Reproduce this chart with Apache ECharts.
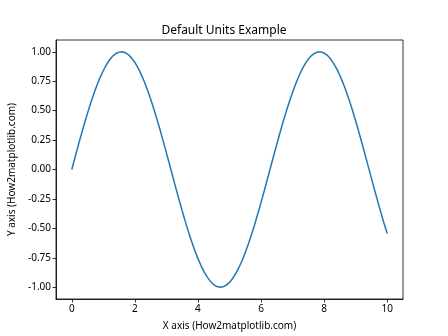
<!DOCTYPE html>
<html><head><meta charset="utf-8">
<script src="https://cdn.jsdelivr.net/npm/echarts@6/dist/echarts.min.js"></script>
<style>html,body{margin:0;padding:0;background:#fff}#c{width:448px;height:336px}</style>
</head><body><div id="c"></div>
<script>
const xValues = [0,0.1,0.2,0.3,0.4,0.5,0.6,0.7,0.8,0.9,1,1.1,1.2,1.3,1.4,1.5,1.6,1.7,1.8,1.9,2,2.1,2.2,2.3,2.4,2.5,2.6,2.7,2.8,2.9,3,3.1,3.2,3.3,3.4,3.5,3.6,3.7,3.8,3.9,4,4.1,4.2,4.3,4.4,4.5,4.6,4.7,4.8,4.9,5,5.1,5.2,5.3,5.4,5.5,5.6,5.7,5.8,5.9,6,6.1,6.2,6.3,6.4,6.5,6.6,6.7,6.8,6.9,7,7.1,7.2,7.3,7.4,7.5,7.6,7.7,7.8,7.9,8,8.1,8.2,8.3,8.4,8.5,8.6,8.7,8.8,8.9,9,9.1,9.2,9.3,9.4,9.5,9.6,9.7,9.8,9.9,10];
const yValues = [0.000,0.100,0.199,0.296,0.389,0.479,0.565,0.644,0.717,0.783,0.841,0.891,0.932,0.964,0.985,0.997,1.000,0.992,0.974,0.946,0.909,0.863,0.808,0.746,0.675,0.598,0.516,0.427,0.335,0.239,0.141,0.042,-0.058,-0.158,-0.256,-0.351,-0.443,-0.530,-0.612,-0.688,-0.757,-0.818,-0.872,-0.916,-0.952,-0.978,-0.994,-1.000,-0.996,-0.982,-0.959,-0.926,-0.883,-0.832,-0.773,-0.706,-0.631,-0.551,-0.465,-0.374,-0.279,-0.182,-0.083,0.017,0.117,0.215,0.312,0.405,0.494,0.578,0.657,0.729,0.794,0.851,0.899,0.938,0.968,0.988,0.999,0.999,0.989,0.970,0.941,0.902,0.855,0.798,0.734,0.663,0.585,0.501,0.412,0.319,0.223,0.124,0.024,-0.075,-0.175,-0.272,-0.366,-0.458,-0.544];
const xTicks = [0,2,4,6,8,10];
const yTicks = [-1,-0.75,-0.5,-0.25,0,0.25,0.5,0.75,1];

const font = 'Noto Sans';
const chart = echarts.init(document.getElementById('c'), null, {renderer:'canvas'});
chart.setOption({
  animation:false,
  title:{text:'Default Units Example', left:'center', top:20, textStyle:{fontFamily:font, fontSize:12, fontWeight:'normal', color:'#000'}},
  grid:{left:56, right:45, top:40, bottom:37, show:true, borderColor:'#000', borderWidth:0.8, outerBoundsMode:'none'},
  xAxis:{type:'value', min:-0.5, max:10.5,
    name:'X axis (How2matplotlib.com)', nameLocation:'middle', nameGap:22,
    nameTextStyle:{fontFamily:font, fontSize:10, color:'#000'},
    axisLine:{show:true, onZero:false, lineStyle:{color:'#000', width:0.8}}, splitLine:{show:false},
    axisTick:{show:true, length:3.5, inside:false, customValues:xTicks, lineStyle:{color:'#000', width:0.8}},
    axisLabel:{customValues:xTicks, fontFamily:font, fontSize:10, color:'#000', margin:5}},
  yAxis:{type:'value', min:-1.1, max:1.1,
    name:'Y axis (How2matplotlib.com)', nameLocation:'middle', nameGap:34, nameRotate:90,
    nameTextStyle:{fontFamily:font, fontSize:10, color:'#000'},
    axisLine:{show:true, onZero:false, lineStyle:{color:'#000', width:0.8}}, splitLine:{show:false},
    axisTick:{show:true, length:3.5, customValues:yTicks, lineStyle:{color:'#000', width:0.8}},
    axisLabel:{customValues:yTicks, fontFamily:font, fontSize:10, color:'#000', margin:5, formatter:v=>v.toFixed(2)}},
  series:[{type:'line', data:xValues.map((x,i)=>[x,yValues[i]]), smooth:false, showSymbol:false,
    lineStyle:{color:'#1f77b4', width:1.5}}]
});
</script></body></html>
